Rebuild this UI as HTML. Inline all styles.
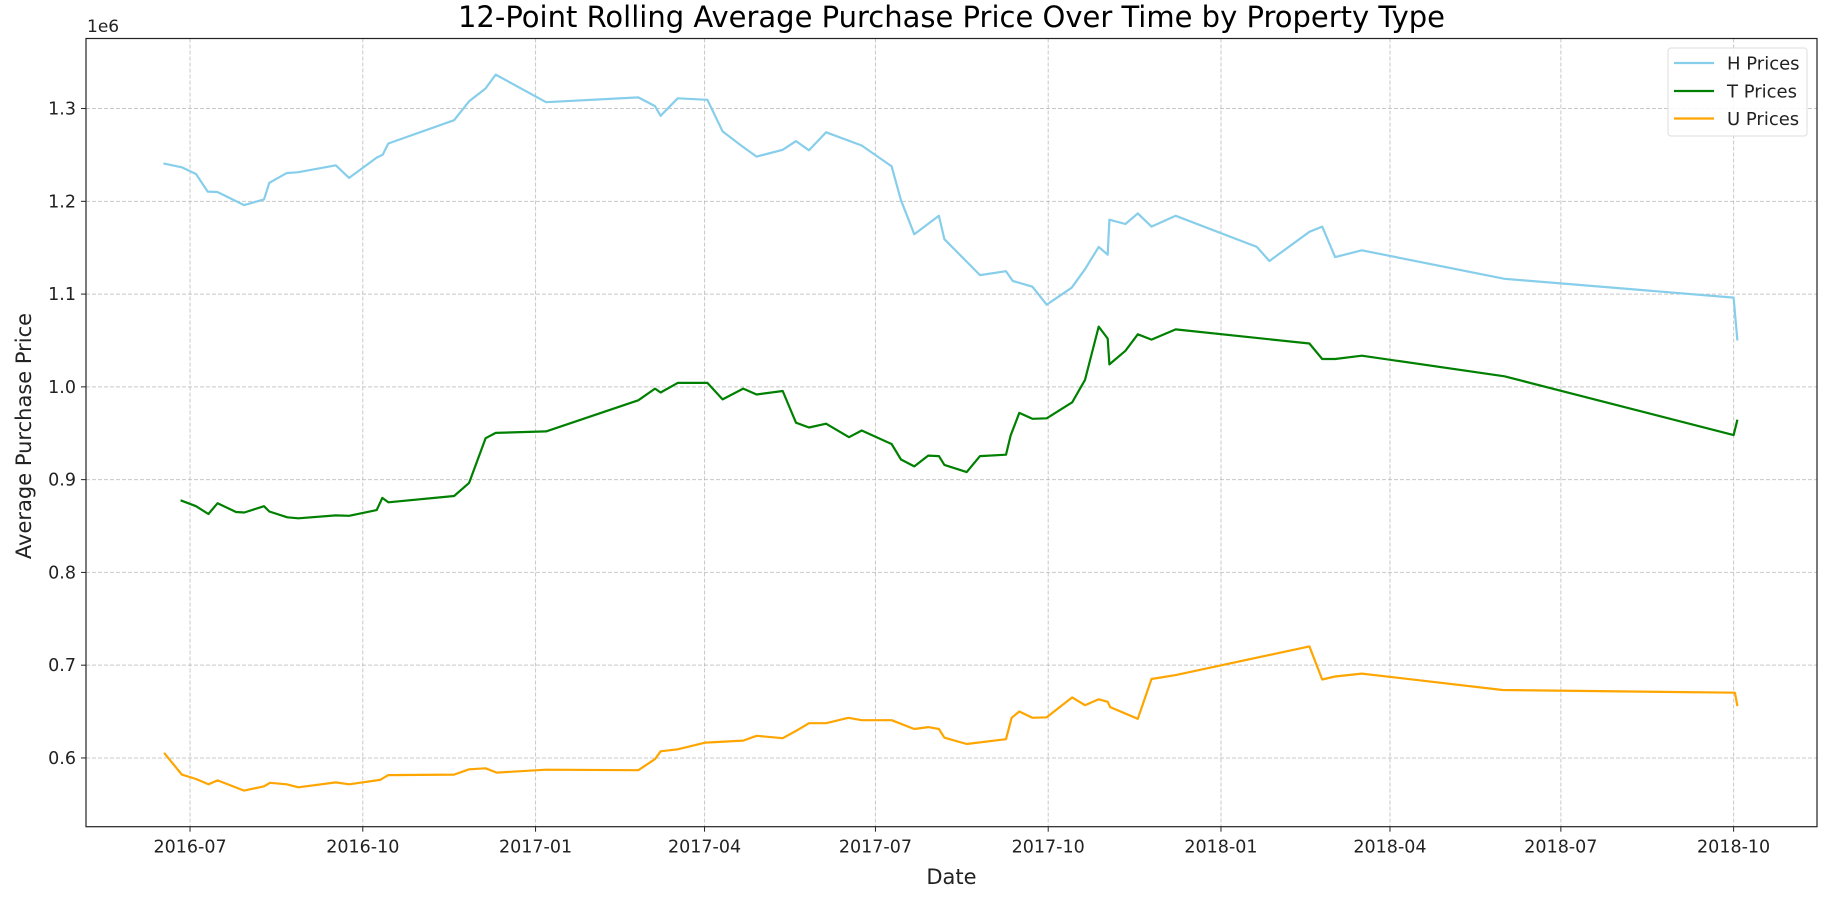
<!DOCTYPE html>
<html>
<head>
<meta charset="utf-8">
<style>
  html,body{margin:0;padding:0;background:#fff;}
  svg{display:block;font-family:"DejaVu Sans","Liberation Sans",sans-serif;}
</style>
</head>
<body>
<svg id="chart" width="1839" height="901" viewBox="0 0 1839 901" xmlns="http://www.w3.org/2000/svg">
  <rect x="0" y="0" width="1839" height="901" fill="#fff"/>
  <text x="951.5" y="27" text-anchor="middle" font-size="29" fill="#000">12-Point Rolling Average Purchase Price Over Time by Property Type</text>
  <g id="grid"></g>
  <g id="series"></g>
  <rect x="86" y="38.5" width="1731" height="788.2" fill="none" stroke="#222" stroke-width="1.2"/>
  <g id="xticks"></g>
  <g id="yticks"></g>
  <text x="87" y="32" font-size="17" fill="#222">1e6</text>
  <text x="951.5" y="884" text-anchor="middle" font-size="21" fill="#222">Date</text>
  <text x="0" y="0" transform="translate(31,436) rotate(-90)" text-anchor="middle" font-size="21" fill="#222">Average Purchase Price</text>
  <g>
    <rect x="1668" y="48" width="139" height="88" rx="3" fill="#fff" fill-opacity="0.85" stroke="#ddd" stroke-width="1"/>
    <line x1="1674" y1="63" x2="1714" y2="63" stroke="#87CEEB" stroke-width="2.2"/>
    <text x="1727" y="69.5" font-size="18" fill="#222">H Prices</text>
    <line x1="1674" y1="91" x2="1714" y2="91" stroke="#008000" stroke-width="2.2"/>
    <text x="1727" y="97.5" font-size="18" fill="#222">T Prices</text>
    <line x1="1674" y1="118.5" x2="1714" y2="118.5" stroke="#FFA500" stroke-width="2.2"/>
    <text x="1727" y="125" font-size="18" fill="#222">U Prices</text>
  </g>
</svg>
<script>
// days since 2016-07-01 and values (millions)
const hDays = [-14.2,-4.4,3.2,9.4,14.6,28.8,39.4,42.2,51.5,57.7,77.6,84.7,99.4,102.6,105.6,140.6,148.6,157.3,162.8,189.6,238.7,247.6,250.6,259.7,275.5,283.6,293.7,301.7,315.6,322.7,329.6,338.7,357.7,373.6,378.6,385.7,398.8,401.7,420.7,434.5,438.1,448.6,456.2,469.5,476.6,483.9,488.7,489.6,498.1,504.7,512,524.9,568.1,574.8,596.1,602.9,609.8,624,700,822,824];
const hVals = [1.2409,1.2367,1.2294,1.2105,1.210,1.1959,1.2021,1.22,1.2304,1.2314,1.2388,1.2252,1.2471,1.2503,1.2623,1.2874,1.3078,1.3215,1.3366,1.3068,1.312,1.3026,1.2922,1.311,1.3094,1.2754,1.2597,1.2482,1.2555,1.2649,1.255,1.2744,1.2602,1.2377,1.2011,1.1645,1.1844,1.1592,1.1205,1.1247,1.1142,1.108,1.0886,1.1069,1.1268,1.1509,1.1425,1.1802,1.1755,1.187,1.1728,1.1844,1.1509,1.1357,1.1671,1.1728,1.1399,1.1472,1.1165,1.0962,1.05];
const tDays = [-5,3.2,9.8,14.7,24.5,28.9,39.4,42.2,51.8,57.7,77.6,84.7,99.4,102.4,105.6,140.6,148.6,157.4,162.8,189.6,238.7,247.6,250.6,259.7,275.5,283.6,294.6,301.7,315.6,322.7,329.6,338.7,350.9,357.7,373.6,378.6,385.7,393.1,398.8,401.7,413.6,420.7,434.5,437,441.6,448.6,456.2,469.8,476.6,483.9,488.7,489.6,498.1,504.7,512,524.9,596.1,602.9,609.8,624,700,822,824];
const tVals = [0.8777,0.8714,0.863,0.8746,0.8651,0.8646,0.8714,0.8657,0.8594,0.8583,0.8615,0.861,0.8672,0.8803,0.8756,0.8824,0.8965,0.9447,0.9504,0.952,0.9855,0.9981,0.9939,1.0043,1.0043,0.9865,0.9981,0.9918,0.9955,0.9614,0.9562,0.9603,0.9457,0.953,0.9384,0.9217,0.9143,0.9259,0.9254,0.9159,0.9081,0.9254,0.9269,0.9478,0.9719,0.9656,0.9661,0.9834,1.0075,1.065,1.052,1.0242,1.0389,1.0567,1.0509,1.0619,1.0467,1.03,1.03,1.0336,1.0114,0.948,0.9646];
const uDays = [-13.8,-4.4,3.2,9.8,14.7,28.8,39.4,42.6,51.5,57.7,77.6,84.7,101.2,105.6,140.6,148.6,157.4,163.3,189.6,238.7,247.6,250.6,259.7,274.5,294.6,301.7,315.6,322.7,329.6,338.7,350.6,357.7,373.6,385.7,393.1,398.8,401.7,413.6,434.5,437.5,441.6,448.6,456.2,469.8,476.6,483.9,488.7,490,504.7,512,524.9,596.1,602.9,609.8,624,699,822.7,824];
const uVals = [0.6056,0.5821,0.5773,0.5716,0.5758,0.5648,0.5695,0.5732,0.5716,0.5684,0.5737,0.5716,0.5763,0.5815,0.5821,0.5878,0.5889,0.5842,0.5873,0.5868,0.5988,0.6072,0.6093,0.6166,0.6187,0.6239,0.6213,0.6292,0.6375,0.6375,0.6433,0.6407,0.6407,0.6312,0.6333,0.6312,0.6218,0.615,0.6202,0.6433,0.6501,0.6433,0.6438,0.6653,0.6569,0.6632,0.6605,0.6548,0.6422,0.6851,0.6893,0.7202,0.6846,0.6878,0.6909,0.6732,0.6703,0.6559];
const xTickDays = [0,92,184,274,365,457,549,639,730,822];
const xTickLabels = ["2016-07","2016-10","2017-01","2017-04","2017-07","2017-10","2018-01","2018-04","2018-07","2018-10"];
const yTickVals = [0.6,0.7,0.8,0.9,1.0,1.1,1.2,1.3];
const yTickLabels = ["0.6","0.7","0.8","0.9","1.0","1.1","1.2","1.3"];

const NS = "http://www.w3.org/2000/svg";
const L = 86, R = 1817, T = 38.5, B = 826.7;
const dMin = -55.4, dMax = 866.4, vMin = 0.5259, vMax = 1.3755;
function xs(d){ return L + (d - dMin) / (dMax - dMin) * (R - L); }
function ys(v){ return B - (v - vMin) / (vMax - vMin) * (B - T); }
function mk(tag, attrs, parent){
  const el = document.createElementNS(NS, tag);
  for (const k in attrs) el.setAttribute(k, attrs[k]);
  parent.appendChild(el);
  return el;
}
const grid = document.getElementById('grid');
const xt = document.getElementById('xticks');
const yt = document.getElementById('yticks');
xTickDays.forEach((d, i) => {
  const x = xs(d);
  const g = mk('line', {x1:x, y1:T, x2:x, y2:B, stroke:'#b0b0b0', 'stroke-opacity':0.7, 'stroke-width':1, 'stroke-dasharray':'4,2'}, grid);
  
  
  const tk = mk('line', {x1:x, y1:B, x2:x, y2:B+5, stroke:'#222', 'stroke-width':1}, xt);
  
  
  const tx = mk('text', {x:x, y:B+26, 'text-anchor':'middle', 'font-size':17.5, fill:'#222'}, xt);
  tx.textContent = xTickLabels[i];
  
  
});
yTickVals.forEach((v, i) => {
  const y = ys(v);
  const g = mk('line', {x1:L, y1:y, x2:R, y2:y, stroke:'#b0b0b0', 'stroke-opacity':0.7, 'stroke-width':1, 'stroke-dasharray':'4,2'}, grid);
  
  
  const tk = mk('line', {x1:L-5, y1:y, x2:L, y2:y, stroke:'#222', 'stroke-width':1}, yt);
  
  
  const tx = mk('text', {x:L-10, y:y+6, 'text-anchor':'end', 'font-size':17.5, fill:'#222'}, yt);
  tx.textContent = yTickLabels[i];
  
  
});
const seriesG = document.getElementById('series');
function drawLine(days, vals, color, name){
  const pts = days.map((d, i) => xs(d).toFixed(1) + ',' + ys(vals[i]).toFixed(1)).join(' ');
  const p = mk('polyline', {points:pts, fill:'none', stroke:color, 'stroke-width':2.2, 'stroke-linejoin':'round'}, seriesG);
  
  
}
drawLine(hDays, hVals, '#87CEEB', 'h-prices-line');
drawLine(tDays, tVals, '#008000', 't-prices-line');
drawLine(uDays, uVals, '#FFA500', 'u-prices-line');
</script>
</body>
</html>
